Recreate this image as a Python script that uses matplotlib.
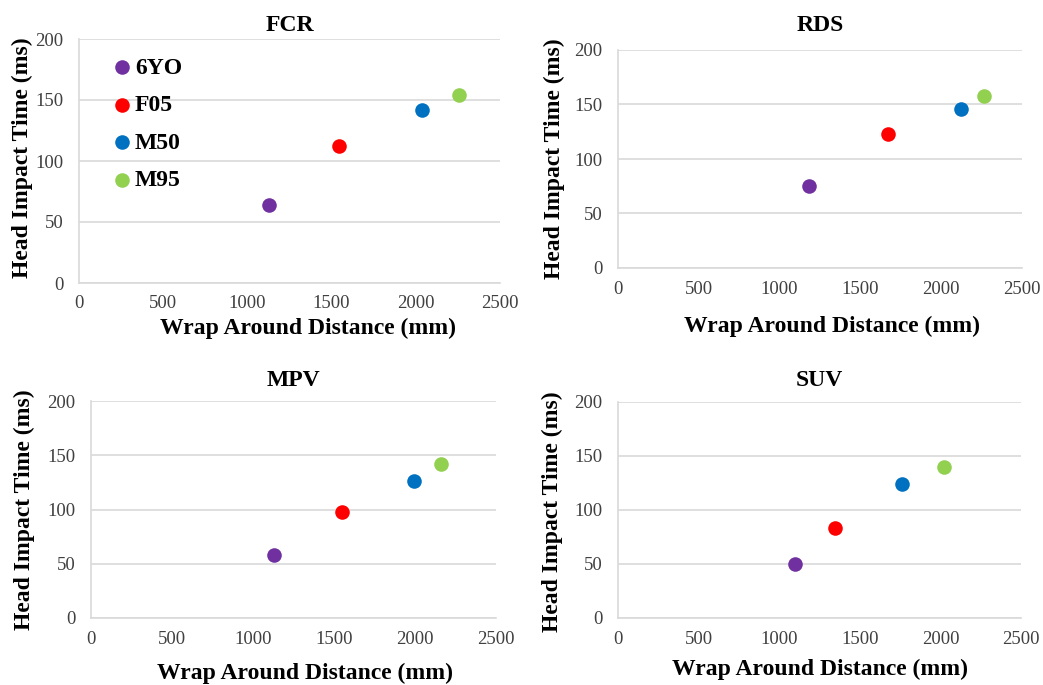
import matplotlib
matplotlib.use("Agg")
import matplotlib.pyplot as plt

W, H = 1043, 685

dummies = ["6YO", "F05", "M50", "M95"]
colors = ["#7030A0", "#FF0000", "#0070C0", "#92D050"]

panels = ["FCR", "RDS", "MPV", "SUV"]
wrap_fcr = [1128, 1546, 2039, 2258]
hit_fcr = [64, 112, 142, 154]
wrap_rds = [1180, 1673, 2125, 2266]
hit_rds = [75, 123, 146, 158]
wrap_mpv = [1128, 1547, 1992, 2158]
hit_mpv = [58, 98, 126, 142]
wrap_suv = [1096, 1348, 1762, 2023]
hit_suv = [50, 83, 124, 140]

x_ticks = [0, 500, 1000, 1500, 2000, 2500]
y_ticks = [0, 50, 100, 150, 200]

plt.rcParams["font.family"] = ["Liberation Serif", "DejaVu Serif"]

fig = plt.figure(figsize=(W / 100, H / 100), dpi=100)

# pixel boxes: left, top, right, bottom ; title pad (px); xlabel top (px); ylabel right edge (px)
layout = {
    "FCR": dict(box=(79, 39, 500, 283), tpad=8, xlab=(308, 318), ylab=(33, 158)),
    "RDS": dict(box=(618, 50, 1022, 268), tpad=19, xlab=(832, 316), ylab=(565, 159)),
    "MPV": dict(box=(91, 401, 496, 618), tpad=15, xlab=(305, 663), ylab=(35, 510)),
    "SUV": dict(box=(618, 402, 1021, 618), tpad=16, xlab=(820, 659), ylab=(563, 512)),
}
data = {
    "FCR": (wrap_fcr, hit_fcr),
    "RDS": (wrap_rds, hit_rds),
    "MPV": (wrap_mpv, hit_mpv),
    "SUV": (wrap_suv, hit_suv),
}

for name in panels:
    lo = layout[name]
    l, t, r, b = lo["box"]
    ax = fig.add_axes([l / W, 1 - b / H, (r - l) / W, (b - t) / H])
    xs, ys = data[name]
    for x, y, lab, c in zip(xs, ys, dummies, colors):
        ax.scatter(x, y, s=110, color=c, label=lab, zorder=3, linewidths=0)
    ax.set_xlim(0, 2500)
    ax.set_ylim(0, 200)
    ax.set_xticks(x_ticks)
    ax.set_yticks(y_ticks)
    ax.yaxis.grid(True, color="#D9D9D9", linewidth=1.2)
    ax.set_axisbelow(True)
    for s in ["top", "right"]:
        ax.spines[s].set_visible(False)
    for s in ["left", "bottom"]:
        ax.spines[s].set_color("#D9D9D9")
        ax.spines[s].set_linewidth(1.2)
    ax.tick_params(length=0, labelsize=13.5, labelcolor="#404040")
    ax.tick_params(axis="y", pad=11)
    ax.tick_params(axis="x", pad=9)
    ax.set_title(name, fontsize=17, fontweight="bold", pad=lo["tpad"] * 0.72)
    ax.set_xlabel("Wrap Around Distance (mm)", fontsize=17, fontweight="bold")
    ax.set_ylabel("Head Impact Time (ms)", fontsize=17, fontweight="bold")
    ax.xaxis.set_label_coords(lo["xlab"][0] / W, 1 - lo["xlab"][1] / H, transform=fig.transFigure)
    ax.yaxis.set_label_coords(lo["ylab"][0] / W, 1 - lo["ylab"][1] / H, transform=fig.transFigure)
    if name == "FCR":
        ax.legend(loc="upper left", bbox_to_anchor=(0.057, 0.965), frameon=False,
                  handlelength=0.8, handletextpad=0.15, labelspacing=0.68,
                  borderaxespad=0, prop={"size": 17, "weight": "bold"})

fig.savefig("out.png", dpi=100)
